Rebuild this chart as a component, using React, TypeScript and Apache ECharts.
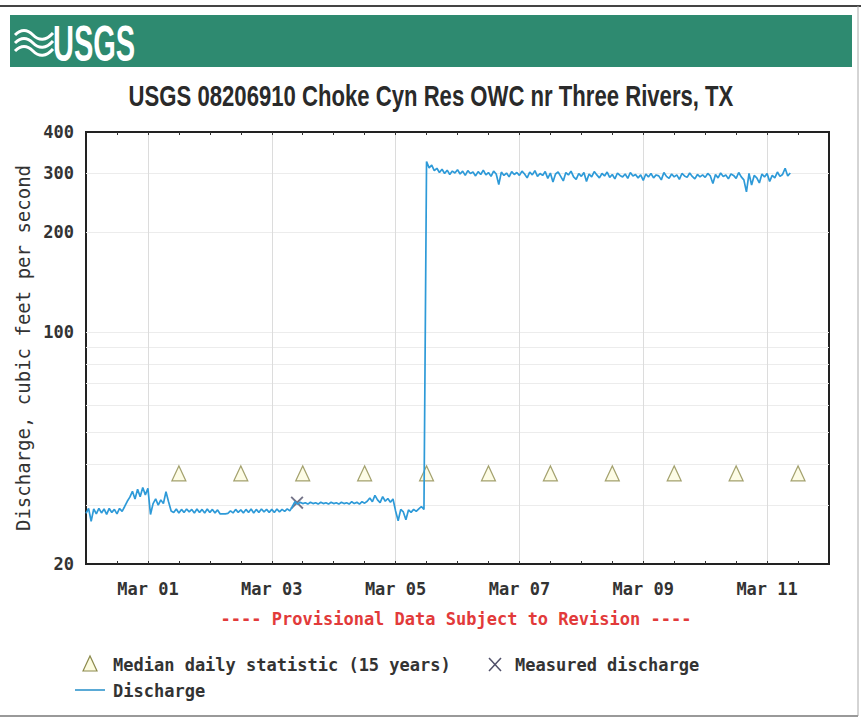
import React, { useEffect, useRef } from "react";
import * as echarts from "echarts";

// Hourly discharge (cfs), starting Feb 28 00:00
const feb28 = [28.4, 29.4, 26.9, 29.3, 28.3, 29.4, 28.5, 29.3, 28.2, 29.4, 28.6, 29.2, 28.3, 29.4, 28.8, 29.8, 30.9, 31.8, 33.1, 31.4, 33.6, 31.9, 34.0, 32.3];
const mar01 = [33.8, 28.2, 30.4, 31.4, 30.1, 31.2, 30.4, 33.0, 30.8, 28.9, 28.6, 29.3, 28.5, 29.2, 28.6, 29.3, 28.7, 29.2, 28.5, 29.3, 28.6, 29.2, 28.5, 29.3];
const mar02 = [28.6, 29.2, 28.5, 29.1, 28.3, 28.3, 28.3, 28.4, 28.9, 28.5, 29.2, 28.6, 29.1, 28.5, 29.2, 28.6, 29.3, 28.5, 29.2, 28.6, 29.3, 28.7, 29.2, 28.6];
const mar03 = [29.2, 28.6, 29.3, 28.7, 29.2, 28.8, 29.3, 28.9, 29.8, 30.8, 30.3, 30.7, 30.4, 30.6, 30.3, 30.7, 30.4, 30.6, 30.3, 30.7, 30.4, 30.6, 30.3, 30.7];
const mar04 = [30.4, 30.6, 30.3, 30.7, 30.4, 30.6, 30.3, 30.8, 30.4, 30.7, 30.3, 30.8, 30.5, 30.9, 31.6, 30.8, 32.2, 31.2, 30.6, 31.9, 30.9, 31.5, 30.7, 31.4];
const mar05 = [28.9, 27.0, 29.2, 28.7, 27.2, 29.1, 28.6, 29.2, 28.8, 29.3, 29.8, 29.2, 326, 312, 318, 306, 311, 302, 309, 300, 307, 298, 305, 301];
const mar06 = [308, 299, 305, 296, 306, 300, 303, 295, 304, 298, 307, 297, 302, 294, 305, 299, 278, 303, 296, 301, 293, 304, 298, 302];
const mar07 = [296, 305, 299, 291, 303, 297, 306, 294, 300, 296, 304, 290, 301, 283, 299, 303, 294, 285, 302, 297, 305, 293, 288, 300];
const mar08 = [294, 302, 284, 299, 293, 304, 297, 291, 300, 295, 303, 292, 298, 289, 301, 296, 293, 299, 290, 302, 295, 298, 291, 297];
const mar09 = [286, 299, 293, 300, 291, 297, 295, 287, 302, 294, 290, 299, 293, 297, 288, 300, 295, 292, 301, 294, 289, 298, 293, 297];
const mar10 = [292, 300, 295, 280, 298, 291, 301, 294, 297, 289, 299, 296, 290, 302, 293, 287, 264, 300, 277, 296, 291, 281, 299, 293];
const mar11 = [300, 284, 296, 291, 303, 294, 298, 311, 295, 301];
const dischargeDays = [feb28, mar01, mar02, mar03, mar04, mar05, mar06, mar07, mar08, mar09, mar10, mar11];

// Median daily statistic (15 years), at noon of each day (hours since Feb 28 00:00)
const medianHours = [36, 60, 84, 108, 132, 156, 180, 204, 228, 252, 276];
const medianValues = [37.5, 37.5, 37.5, 37.5, 37.5, 37.5, 37.5, 37.5, 37.5, 37.5, 37.5];

// Measured discharge
const measuredHours = [81.8];
const measuredValues = [30.6];

// Axes
const xLabelHours = [24, 72, 120, 168, 216, 264];
const xTickLabels = ["Mar 01", "Mar 03", "Mar 05", "Mar 07", "Mar 09", "Mar 11"];
const xTickHours = [12, 24, 36, 48, 60, 72, 84, 96, 108, 120, 132, 144, 156, 168, 180, 192, 204, 216, 228, 240, 252, 264, 276];
const yTickLabels = [20, 100, 200, 300, 400];
const yGridValues = [30, 40, 50, 60, 70, 80, 90, 100, 200, 300];

const MONO = '"DejaVu Sans Mono", "Liberation Mono", monospace';
const SANS = '"Liberation Sans", Arial, sans-serif';

const logoPath =
  "M0 7 C6 1 12 1 18 7 C24 13 31 13 38 5 M0 15 C6 9 12 9 18 15 C24 21 31 21 38 13 M0 23 C6 17 12 17 18 23 C24 29 31 29 38 21";
try {
  echarts.graphic.registerShape("usgsWave", echarts.graphic.extendPath(logoPath, {}));
} catch (e) {}

export default function App() {
  const ref = useRef<HTMLDivElement>(null);
  useEffect(() => {
    if (!ref.current) return;
    const chart = echarts.init(ref.current, null, { renderer: "svg" });
    const discharge: [number, number][] = [];
    dischargeDays.forEach((day, d) => day.forEach((v, h) => discharge.push([d * 24 + h, v])));
    const median = medianHours.map((h, i) => [h, medianValues[i]]);
    const measured = measuredHours.map((h, i) => [h, measuredValues[i]]);
    const tickFont = { fontFamily: MONO, fontWeight: "bold" as const, fontSize: 17, color: "#333" };

    chart.setOption({
      animation: false,
      backgroundColor: "#fff",
      grid: { left: 86, right: 32, top: 132, bottom: 155, show: true, borderColor: "#222", borderWidth: 2, backgroundColor: "transparent" },
      xAxis: [
        {
          type: "value", min: 0, max: 288, position: "bottom",
          axisLine: { show: false },
          axisTick: { show: true, inside: true, length: 3, customValues: xTickHours, lineStyle: { color: "#333" } },
          axisLabel: {
            ...tickFont, margin: 16, customValues: xLabelHours,
            formatter: (v: number) => { const i = xLabelHours.indexOf(Math.round(v)); return i >= 0 ? xTickLabels[i] : ""; },
          },
          splitLine: { show: false },
        },
        {
          type: "value", min: 0, max: 288, position: "top",
          axisLine: { show: false },
          axisTick: { show: true, inside: true, length: 3, customValues: xTickHours, lineStyle: { color: "#333" } },
          axisLabel: { show: false },
          splitLine: { show: false },
        },
        {
          type: "value", min: 0, max: 288, position: "bottom",
          axisLine: { show: false },
          axisTick: { show: false, customValues: xLabelHours },
          axisLabel: { show: false },
          splitLine: { show: true, lineStyle: { color: "#dcdcdc", width: 1 } },
        },
      ],
      yAxis: {
        type: "log", logBase: 10, min: 20, max: 400,
        axisLine: { show: false },
        axisTick: { show: false, customValues: yGridValues },
        axisLabel: { ...tickFont, margin: 12, customValues: yTickLabels, formatter: (v: number) => String(Math.round(v)) },
        splitLine: { show: true, lineStyle: { color: "#ececec", width: 1 } },
        name: "Discharge, cubic feet per second",
        nameLocation: "middle", nameGap: 53, nameRotate: 90,
        nameTextStyle: { fontFamily: MONO, fontSize: 19, color: "#333" },
      },
      series: [
        {
          name: "Median daily statistic (15 years)", type: "scatter", xAxisIndex: 0, data: median,
          symbol: "triangle", symbolSize: [14, 15],
          itemStyle: { color: "#fcfbe0", borderColor: "#8c8a4c", borderWidth: 1.2 },
        },
        {
          name: "Discharge", type: "line", xAxisIndex: 0, data: discharge, showSymbol: false,
          lineStyle: { color: "#2e9ad8", width: 1.7 },
        },
        {
          name: "Measured discharge", type: "scatter", xAxisIndex: 0, data: measured,
          symbol: "path://M0,1L1,0L5,4L9,0L10,1L6,5L10,9L9,10L5,6L1,10L0,9L4,5Z", symbolSize: 13,
          itemStyle: { color: "#50506a" },
        },
      ],
      graphic: [
        { type: "line", shape: { x1: 0, y1: 6, x2: 861, y2: 6 }, style: { stroke: "#444", lineWidth: 2 } },
        { type: "line", shape: { x1: 858, y1: 6, x2: 858, y2: 716 }, style: { stroke: "#aaa", lineWidth: 1 } },
        { type: "line", shape: { x1: 0, y1: 716, x2: 858, y2: 716 }, style: { stroke: "#999", lineWidth: 2 } },
        { type: "rect", shape: { x: 10, y: 15, width: 842, height: 52 }, style: { fill: "#2e8a70" } },
        { type: "usgsWave", x: 15, y: 28, style: { fill: "none", stroke: "#fff", lineWidth: 3 } },
        {
          type: "text", x: 53, y: 44, scaleX: 0.58,
          style: { text: "USGS", fill: "#fff", font: `bold 50px ${SANS}`, align: "left", verticalAlign: "middle" },
        },
        {
          type: "text", x: 431, y: 96, scaleX: 0.763,
          style: { text: "USGS 08206910 Choke Cyn Res OWC nr Three Rivers, TX", fill: "#2a2a2a", font: `bold 29px ${SANS}`, align: "center", verticalAlign: "middle" },
        },
        {
          type: "text", x: 456, y: 619,
          style: { text: "---- Provisional Data Subject to Revision ----", fill: "#e23a3a", font: `bold 17px ${MONO}`, align: "center", verticalAlign: "middle" },
        },
        { type: "polygon", shape: { points: [[83, 671], [90, 656], [97, 671]] }, style: { fill: "#fcfbe0", stroke: "#8c8a4c", lineWidth: 1.2 } },
        { type: "text", x: 113, y: 665, style: { text: "Median daily statistic (15 years)", fill: "#333", font: `bold 17px ${MONO}`, verticalAlign: "middle" } },
        { type: "line", shape: { x1: 489, y1: 658, x2: 501, y2: 671 }, style: { stroke: "#50506a", lineWidth: 1.5 } },
        { type: "line", shape: { x1: 501, y1: 658, x2: 489, y2: 671 }, style: { stroke: "#50506a", lineWidth: 1.5 } },
        { type: "text", x: 515, y: 665, style: { text: "Measured discharge", fill: "#333", font: `bold 17px ${MONO}`, verticalAlign: "middle" } },
        { type: "line", shape: { x1: 75, y1: 690, x2: 105, y2: 690 }, style: { stroke: "#5aaad6", lineWidth: 2 } },
        { type: "text", x: 113, y: 691, style: { text: "Discharge", fill: "#333", font: `bold 17px ${MONO}`, verticalAlign: "middle" } },
      ],
    });
    return () => chart.dispose();
  }, []);
  return <div ref={ref} style={{ position: "fixed", left: 0, top: 0, width: 861, height: 719 }} />;
}
